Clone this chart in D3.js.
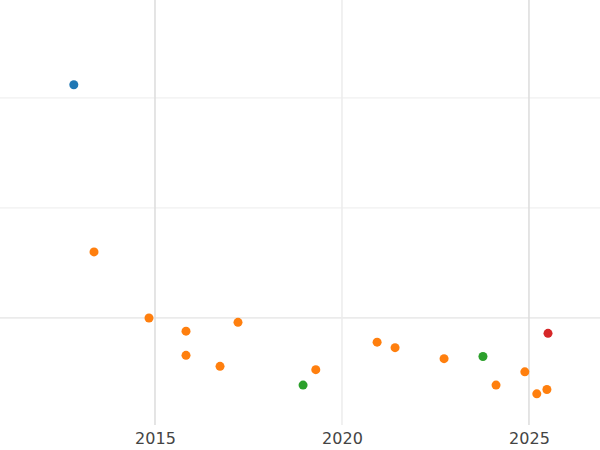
<!DOCTYPE html>
<html><head><meta charset="utf-8">
<script src="https://cdn.jsdelivr.net/npm/d3@7"></script>
<style>body{margin:0;background:#fff}</style>
</head><body>
<script>
var years = [2012.83, 2013.37, 2014.84, 2015.83, 2015.83, 2016.74, 2017.22, 2019.30, 2020.94, 2021.42, 2022.73, 2024.12, 2024.89, 2025.21, 2025.48, 2018.96, 2023.77, 2025.51];
var values = [2.12, 0.60, 0.00, -0.12, -0.34, -0.44, -0.04, -0.47, -0.22, -0.27, -0.37, -0.61, -0.49, -0.69, -0.65, -0.61, -0.35, -0.14];
var groups = ["a","b","b","b","b","b","b","b","b","b","b","b","b","b","b","c","c","d"];
var groupColors = {a:"#1f77b4", b:"#ff7f0e", c:"#2ca02c", d:"#d62728"};
var xTicks = [2015, 2020, 2025];
var yGrid = [0, 1, 2];

var W = 600, H = 450;
var svg = d3.select("body").append("svg").attr("width", W).attr("height", H);
var x = d3.scaleLinear().domain([2010.856, 2026.9]).range([0, W]);
var y = d3.scaleLinear().domain([-0.973, 2.89]).range([425, 0]);

svg.selectAll("line.h").data(yGrid).enter().append("line")
  .attr("x1", 0).attr("x2", W).attr("y1", y).attr("y2", y)
  .attr("stroke", function(d){ return d === 0 ? "#dcdcdc" : "#ececec"; }).attr("stroke-width", 1);
svg.selectAll("line.v").data(xTicks).enter().append("line")
  .attr("x1", x).attr("x2", x).attr("y1", 0).attr("y2", 425)
  .attr("stroke", function(d){ return d === 2020 ? "#ececec" : "#dcdcdc"; }).attr("stroke-width", 1.5);

var ax = svg.append("g").attr("transform", "translate(0,425)")
  .call(d3.axisBottom(x).tickValues(xTicks).tickFormat(d3.format("d")).tickSize(0).tickPadding(8));
ax.select(".domain").remove();
ax.selectAll("text").attr("font-family", "DejaVu Sans").attr("font-size", 16).attr("fill", "#444");

svg.selectAll("circle").data(years).enter().append("circle")
  .attr("cx", function(d){ return x(d); })
  .attr("cy", function(d, i){ return y(values[i]); })
  .attr("r", 4.5)
  .attr("fill", function(d, i){ return groupColors[groups[i]]; });
</script>
</body></html>
